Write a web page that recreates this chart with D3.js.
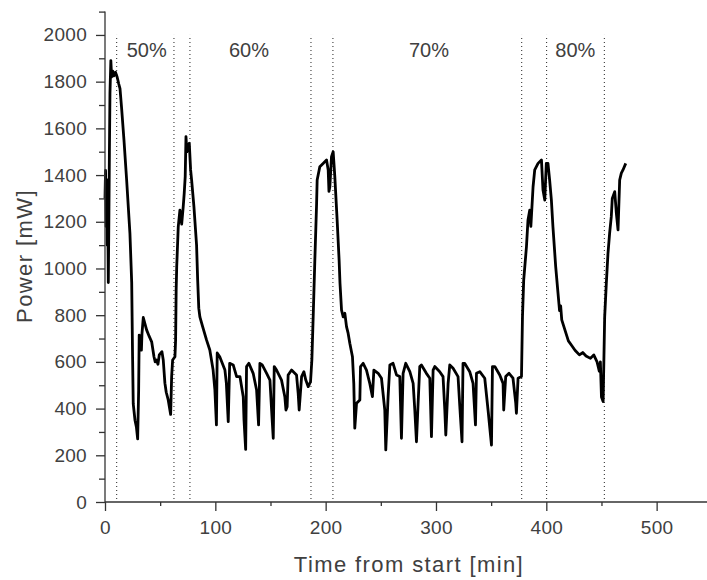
<!DOCTYPE html>
<html>
<head>
<meta charset="utf-8">
<script src="https://cdn.jsdelivr.net/npm/d3@7"></script>
<style>
  body { margin: 0; background: #fff; }
  svg { display: block; }
  text { font-family: "Liberation Sans", Arial, sans-serif; fill: #404040; }
</style>
</head>
<body>
<svg id="chart" width="707" height="580"></svg>
<script>
// ---- data ----
const timeMin = [
  0, 0.5, 1, 1.5, 2, 2.5, 3, 3.5, 4, 4.5, 5.3, 6, 7, 8, 9.5, 11, 12.5, 13.6, 15, 17.2,
  19.6, 22.6, 24.2, 25, 25.6, 27.2, 28.5, 29.6, 30.5, 31, 32, 33, 33.5, 34.7, 37.7, 40,
  42.3, 44.4, 45.5, 46.8, 48, 49.2, 51.6, 52.8, 54.3, 55.5, 57.3, 59.5, 60.4, 61.3, 63.4,
  64, 64.5, 65, 66.4, 67.9, 69.5, 70.9, 71.8, 72.7, 73.4, 74.2, 74.9, 76.4, 77.6, 78.5,
  80.6, 83, 84, 85, 86, 88.5, 92, 95, 98, 99.6, 101, 101.7, 104, 108.7, 110, 111.7, 113,
  116.2, 119.3, 122.3, 125.3, 126, 127.5, 128.3, 130.4, 134.3, 137.4, 139.2, 140.4, 142.5,
  146.5, 149.5, 151, 152.5, 153.4, 155.5, 160, 163, 164, 165.1, 166, 169.1, 173.6, 175.1,
  176, 178.2, 180.3, 182, 184.2, 186.3, 187.5, 188.7, 190.2, 191.8, 192.3, 194.7, 197.7,
  200.8, 202.3, 203, 203.8, 205.3, 206.8, 208.3, 210.4, 212.2, 213, 214.4, 215.9, 217.4,
  218.9, 220.4, 221.9, 224.3, 225.5, 226.4, 228, 231, 231.6, 234, 237, 240, 242.4, 243.7,
  247.6, 250.6, 253.6, 254.5, 256.6, 258.2, 261.1, 264.2, 267.2, 268.7, 270.2, 272.6,
  276.3, 279.3, 280.8, 282.3, 283.8, 285.3, 286.8, 291.3, 294.4, 295.9, 297.4, 298.9,
  303.4, 306.4, 308, 308.9, 311, 312.5, 315.5, 320, 321.6, 323.6, 324.5, 326, 330.6,
  333.6, 335.8, 336.7, 339.7, 344.2, 347.2, 350.3, 351.2, 353.3, 357.8, 360.8, 361.4,
  363.2, 366.2, 369.8, 372.3, 372.9, 374.4, 377.5, 378.4, 379.5, 382, 383.4, 385, 386,
  388, 389.5, 392.5, 395.6, 397, 398.6, 400, 401.5, 403, 404.6, 406, 408.5, 410.6, 412,
  413, 414, 416, 418, 420, 423, 426, 430, 433, 436, 440, 443, 446, 448, 449, 450, 451.5,
  452.9, 454.4, 455.9, 457.4, 458.9, 459.8, 462, 463.5, 465, 466.5, 468, 469.5, 472
];
const powerMW = [
  1300, 1420, 1180, 1380, 1100, 1250, 940, 1200, 1500, 1750, 1890, 1820, 1845, 1825, 1840, 1820, 1790, 1770, 1690, 1550,
  1380, 1150, 940, 620, 420, 350, 320, 270, 480, 715, 700, 650, 720, 790, 737, 710,
  686, 622, 600, 608, 590, 630, 644, 608, 509, 470, 437, 375, 537, 608, 622,
  694, 908, 1008, 1179, 1250, 1190, 1265, 1322, 1393, 1565, 1500, 1525, 1536, 1422, 1379,
  1265, 1100, 950, 830, 793, 751, 694, 651, 565, 480, 330, 638, 622, 565, 509, 344, 594,
  587, 537, 537, 451, 351, 225, 580, 594, 551, 480, 330, 594, 587,
  551, 522, 394, 273, 580, 565, 522, 451, 394, 408, 544, 565, 544, 465,
  394, 537, 558, 522, 494, 515, 608, 793, 1036, 1279, 1379, 1436, 1450,
  1465, 1422, 1330, 1350, 1479, 1500, 1393, 1208, 1036, 937, 822, 793, 808,
  751, 722, 680, 622, 508, 316, 423, 437, 580, 594, 565, 508, 451, 565,
  551, 530, 394, 223, 451, 587, 594, 544, 537, 273, 551, 594,
  558, 508, 394, 258, 423, 580, 587, 551, 530, 280, 565, 580,
  558, 537, 394, 287, 508, 587, 573, 537, 408, 258, 594, 594, 558,
  508, 330, 551, 558, 530, 394, 244, 580, 580, 544, 508, 394,
  537, 551, 530, 423, 380, 530, 537, 793, 950, 1093, 1208, 1250, 1180,
  1350, 1422, 1450, 1465, 1336, 1293, 1450, 1450, 1379, 1293, 1179, 1008, 894, 820,
  840, 780, 750, 720, 690, 670, 650, 630, 640, 625, 615, 630, 600, 560, 600, 450, 430,
  793, 937, 1065, 1151, 1222, 1300, 1329, 1236, 1165, 1379, 1408, 1422, 1450
];
const boundaryTimes = [10.6, 62.5, 77.0, 186.7, 206.6, 377.7, 400.3, 452.6];
const phaseLabels = ["50%", "60%", "70%", "80%"];
const phaseLabelTimes = [37.8, 130.5, 293.7, 426.3];
const xTickValues = [0, 100, 200, 300, 400, 500];
const xMinorValues = [50, 150, 250, 350, 450, 550];
const yTickValues = [0, 200, 400, 600, 800, 1000, 1200, 1400, 1600, 1800, 2000];
const yMinorValues = [100, 300, 500, 700, 900, 1100, 1300, 1500, 1700, 1900, 2100];
const xTitle = "Time from start [min]";
const yTitle = "Power [mW]";

// ---- layout ----
const svg = d3.select("#chart");
const x0 = 105, y0 = 502;
const x = d3.scaleLinear().domain([0, 550]).range([x0, x0 + 606.8]);
const y = d3.scaleLinear().domain([0, 2100]).range([y0, y0 - 490.4]);
const axisColor = "#333";

// boundaries (dotted)
svg.append("g").selectAll("line").data(boundaryTimes).join("line")
  .attr("x1", d => x(d)).attr("x2", d => x(d))
  .attr("y1", y(0) - 3).attr("y2", y(2000))
  .attr("stroke", "#222").attr("stroke-width", 1)
  .attr("stroke-dasharray", "1,3");

// phase labels
svg.append("g").selectAll("text").data(phaseLabels).join("text")
  .attr("x", (d, i) => x(phaseLabelTimes[i]))
  .attr("y", 56.7)
  .attr("text-anchor", "middle")
  .attr("font-size", 20)
  .text(d => d);

// data line
const pts = timeMin.map((t, i) => [t, powerMW[i]]);
svg.append("path").datum(pts)
  .attr("fill", "none").attr("stroke", "#000").attr("stroke-width", 2.8)
  .attr("stroke-linejoin", "round")
  .attr("d", d3.line().x(d => x(d[0])).y(d => y(d[1])));

// x axis
const gx = svg.append("g").attr("transform", `translate(0,${y0})`);
gx.call(d3.axisBottom(x).tickValues(xTickValues).tickSize(9).tickPadding(6).tickFormat(d3.format("d")));
gx.append("g").call(d3.axisBottom(x).tickValues(xMinorValues).tickSize(4).tickFormat(""))
  .select(".domain").remove();
// y axis
const gy = svg.append("g").attr("transform", `translate(${x0},0)`);
gy.call(d3.axisLeft(y).tickValues(yTickValues).tickSize(9).tickPadding(9).tickFormat(d3.format("d")));
gy.append("g").call(d3.axisLeft(y).tickValues(yMinorValues).tickSize(6).tickFormat(""))
  .select(".domain").remove();

svg.selectAll(".domain").attr("stroke", axisColor).attr("stroke-width", 1.3);
svg.selectAll(".tick line").attr("stroke", axisColor).attr("stroke-width", 1.3);
gx.selectAll(".domain").attr("d", `M${x0},0H${x(550)}`);
gy.selectAll(".domain").attr("d", `M0,${y(2100)}V${y0}`);
svg.selectAll(".tick text")
  .attr("font-family", "Liberation Sans, Arial, sans-serif")
  .attr("font-size", 19).attr("fill", "#404040").attr("letter-spacing", 0.3);
gx.selectAll(".tick text").attr("dy", 0).attr("y", 32);
gy.selectAll(".tick text").attr("dy", 6);

// titles
svg.append("text")
  .attr("x", 409).attr("y", 571.5)
  .attr("text-anchor", "middle").attr("font-size", 22).attr("letter-spacing", 1.4)
  .text(xTitle);
svg.append("text")
  .attr("transform", `translate(32,256) rotate(-90)`)
  .attr("text-anchor", "middle").attr("font-size", 22).attr("letter-spacing", 1.4)
  .text(yTitle);
</script>
</body>
</html>
